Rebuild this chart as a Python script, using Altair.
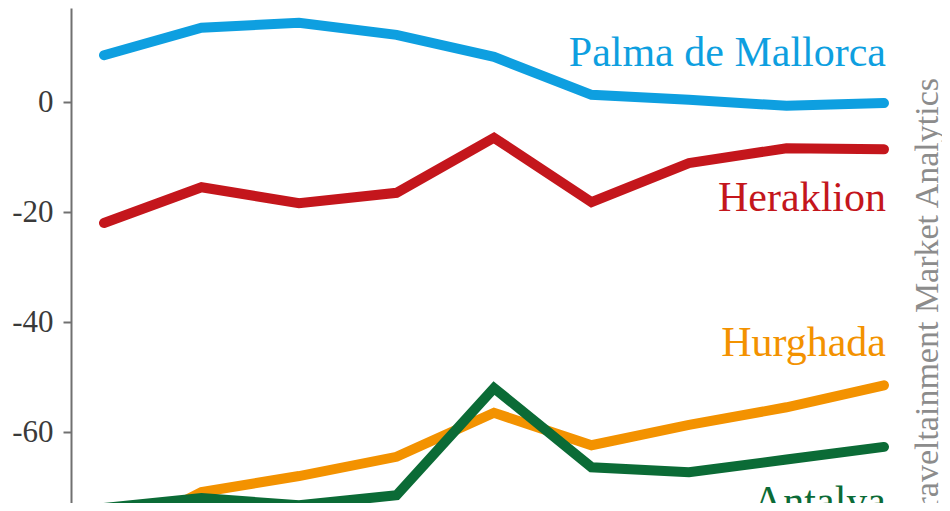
import altair as alt
import pandas as pd

periods = [1, 2, 3, 4, 5, 6, 7, 8, 9]
series_names = ["Palma de Mallorca", "Heraklion", "Hurghada", "Antalya"]
palma = [8.5, 13.5, 14.4, 12.2, 8.2, 1.3, 0.4, -0.7, -0.2]
heraklion = [-22.0, -15.5, -18.4, -16.5, -6.5, -18.2, -11.1, -8.4, -8.6]
hurghada = [-80.0, -70.9, -68.0, -64.5, -56.5, -62.4, -58.7, -55.5, -51.5]
antalya = [-73.8, -72.0, -73.3, -71.5, -52.0, -66.4, -67.3, -65.0, -62.7]
colors = ["#0e9fe0", "#c4161c", "#f39200", "#0b6b36"]
y_ticks = [-60, -40, -20, 0]
source_text = "Quelle: Traveltainment Market Analytics"

values = [palma, heraklion, hurghada, antalya]
rows = []
for name, vals in zip(series_names, values):
    for p, v in zip(periods, vals):
        rows.append({"period": p, "value": v, "series": name})
df = pd.DataFrame(rows)

FONT = "Liberation Serif"
W, H = 871, 495
x_scale = alt.Scale(domain=[0.6615, 9.595], nice=False, zero=False)
y_scale = alt.Scale(domain=[-72.9, 17.09], nice=False, zero=False)
color_scale = alt.Scale(domain=series_names, range=colors)

lines = alt.Chart(df).mark_line(strokeWidth=10, strokeCap="round", strokeJoin="miter", clip=True).encode(
    x=alt.X("period:Q", scale=x_scale, axis=None),
    y=alt.Y("value:Q", scale=y_scale,
            axis=alt.Axis(values=y_ticks, title=None, grid=False, domainColor="#707070", domainWidth=2,
                          tickColor="#707070", tickWidth=2, tickSize=8, labelFont=FONT, labelFontSize=31,
                          labelColor="#3a3a3a", labelPadding=10, labelExpr="'' + datum.value")),
    color=alt.Color("series:N", scale=color_scale, legend=None),
    detail="series:N",
)

label_dy = {"Palma de Mallorca": -37, "Heraklion": 62, "Hurghada": -29, "Antalya": 68}
last = df[df["period"] == periods[-1]]
layers = [lines]
for name in series_names:
    layers.append(
        alt.Chart(last[last["series"] == name]).mark_text(
            font=FONT, fontSize=42, align="right", baseline="alphabetic", dx=2, dy=label_dy[name]
        ).encode(
            x=alt.X("period:Q", scale=x_scale),
            y=alt.Y("value:Q", scale=y_scale),
            text="series:N",
            color=alt.Color("series:N", scale=color_scale, legend=None),
        )
    )

src = alt.Chart(pd.DataFrame({"t": [source_text]})).mark_text(
    font=FONT, fontSize=34, angle=270, align="right", baseline="alphabetic", color="#8c8c8c"
).encode(text="t:N", x=alt.value(W - 4), y=alt.value(70))
layers.append(src)

chart = alt.layer(*layers).properties(
    width=W, height=H,
    autosize=alt.AutoSizeParams(type="none"),
    padding={"left": 63, "top": 0, "right": 0, "bottom": 0},
).configure_view(stroke=None)

chart.save("out.html", embed_options={"renderer": "svg", "actions": False})
